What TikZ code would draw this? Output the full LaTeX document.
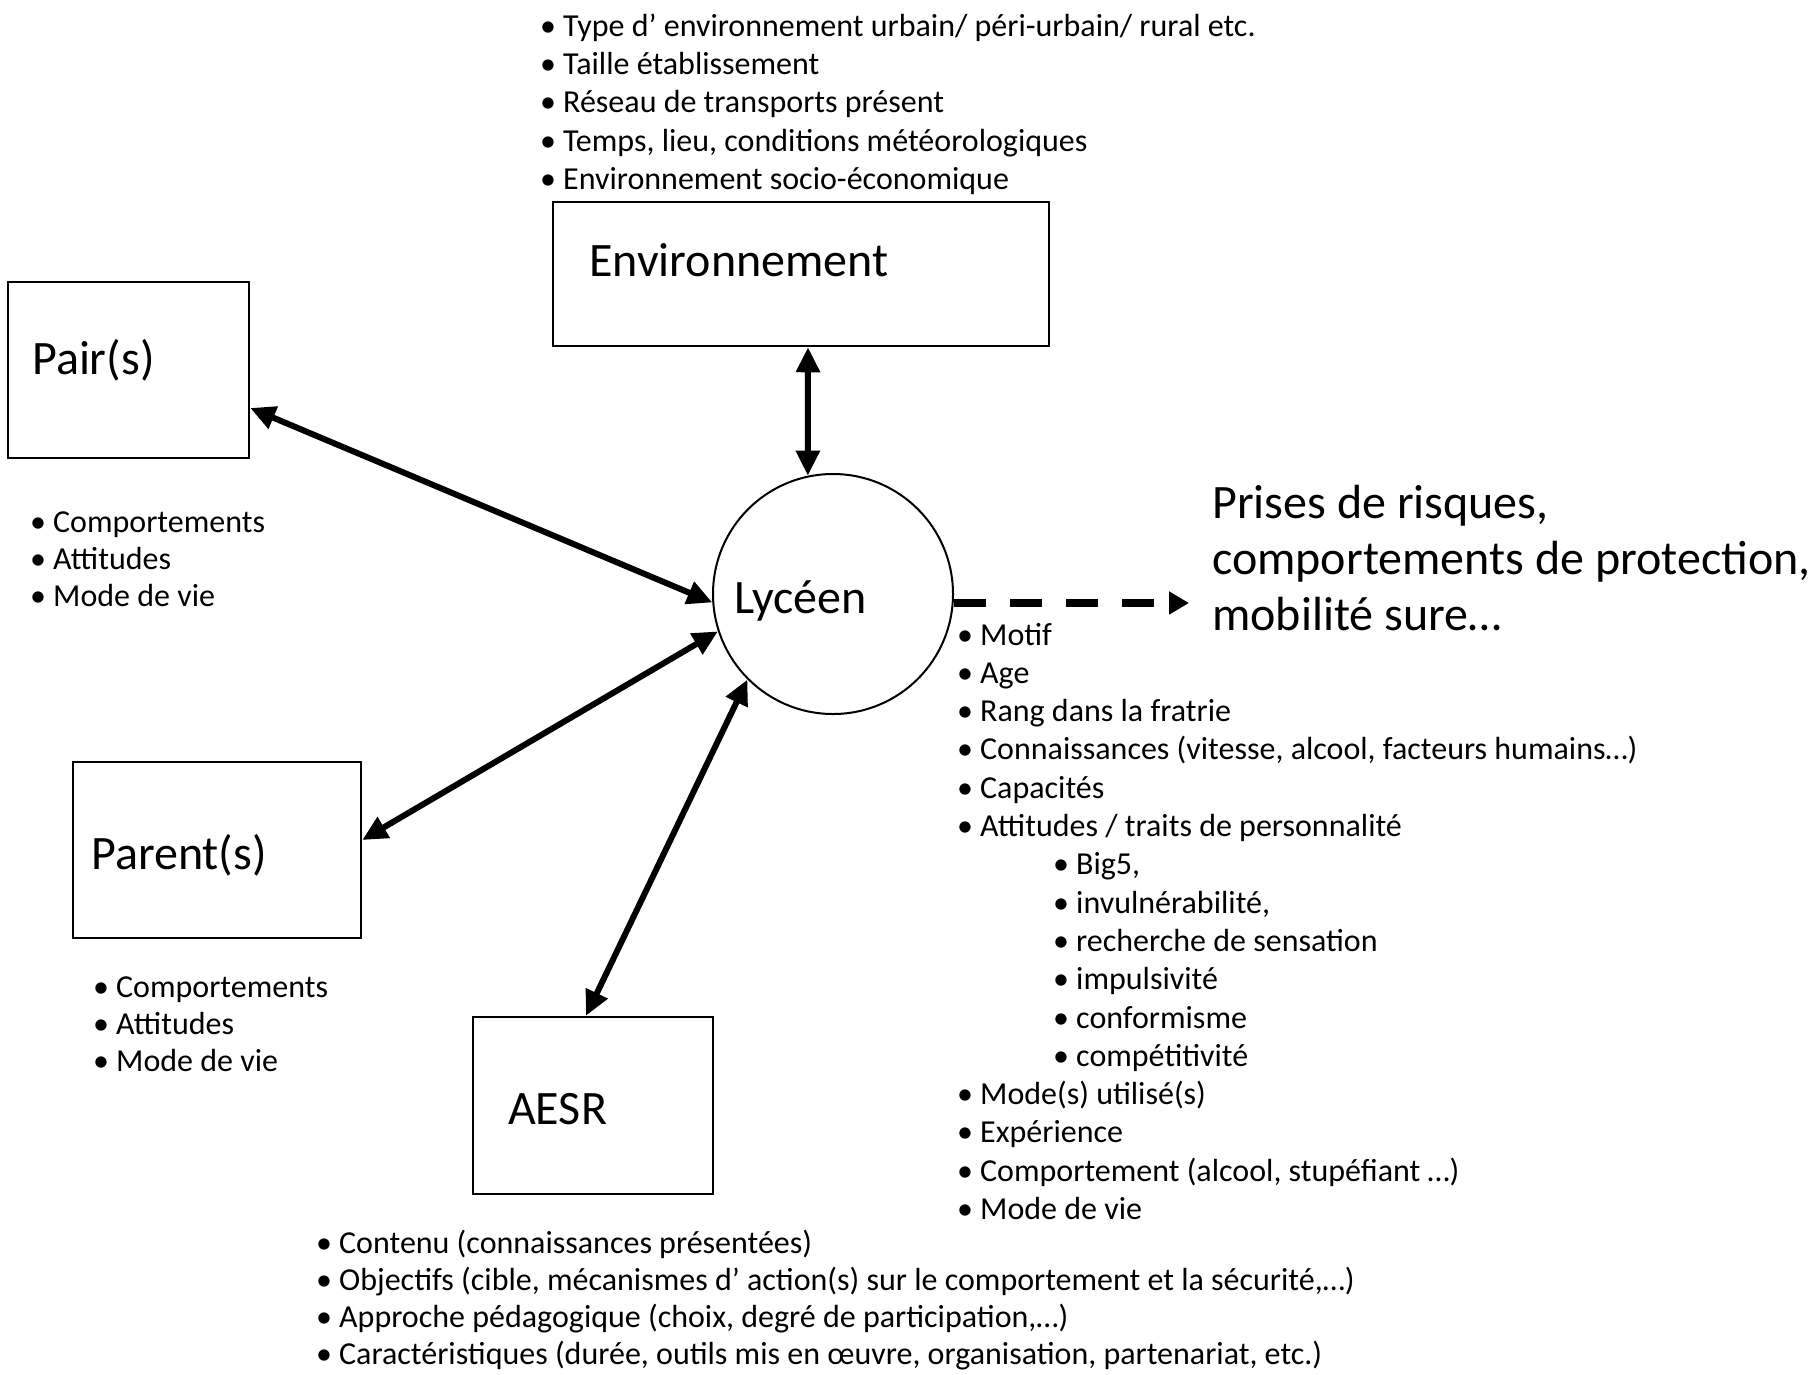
\documentclass[tikz,border=0pt]{standalone}
\usepackage{fontspec}
\setmainfont{Carlito}
\usetikzlibrary{arrows.meta}
\newcommand\bl{\llap{\makebox[23pt][l]{•}}}
\begin{document}
\begin{tikzpicture}[x=1pt,y=-1pt,
  box/.style={draw, line width=2.5pt, rectangle, inner sep=0pt},
  big/.style={font=\fontsize{48}{56}\selectfont, inner sep=0pt, anchor=base west},
  itm/.style={font=\fontsize{32}{38}\selectfont, inner sep=0pt, anchor=base west},
  dbl/.style={line width=6pt, {Triangle[length=25pt,width=23pt]}-{Triangle[length=25pt,width=23pt]}},
  dsh/.style={line width=8pt, dash pattern=on 32pt off 24pt, -{Triangle[length=20pt,width=22pt]}}]
\useasboundingbox[fill=white] (0,0) rectangle (1814,1374);

% boxes
\node[box, minimum width=496pt, minimum height=144pt] (env) at (801,274) {};
\node[box, minimum width=241pt, minimum height=176pt] (pair) at (128.5,370) {};
\node[box, minimum width=288pt, minimum height=176pt] (parent) at (217,850) {};
\node[box, minimum width=240pt, minimum height=177pt] (aesr) at (593,1105.5) {};
\node[draw, circle, line width=2pt, minimum size=240pt, inner sep=0pt] (lyc) at (833,594) {};

% labels
\node[big] (envt) at (589,276) {Environnement};
\node[big] (pairt) at (32,374) {Pair(s)};
\node[big] (parentt) at (91,869) {Parent(s)};
\node[big] (aesrt) at (508,1124) {AESR};
\node[big] (lyct) at (734,613) {Lycéen};
\node[big] (out1) at (1212,518) {Prises de risques,};
\node[big] (out2) at (1212,574) {comportements de protection,};
\node[big] (out3) at (1212,630) {mobilité sure…};

% connectors
\draw[dbl] ([xshift=7pt]env.south) -- (lyc.102);
\draw[dbl] ([yshift=-38pt]pair.east) -- (lyc.184);
\draw[dbl] ([yshift=10pt]parent.east) -- (lyc.198);
\draw[dbl] ([xshift=-7pt]aesr.north) -- (lyc.225);
\coordinate (tip) at (1189,603);
\draw[dsh] (lyc.east |- tip) -- (tip);

% lists
\foreach \t [count=\i] in {{Type d’ environnement urbain/ péri-urbain/ rural etc.},
  {Taille établissement}, {Réseau de transports présent},
  {Temps, lieu, conditions météorologiques}, {Environnement socio-économique}}
  \node[itm] (top\i) at (563,{36.5+38.2*(\i-1)}) {\bl\t};

\foreach \t [count=\i] in {Comportements, Attitudes, Mode de vie}
  \node[itm] (pl\i) at (53,{532+37*(\i-1)}) {\bl\t};

\foreach \t [count=\i] in {Comportements, Attitudes, Mode de vie}
  \node[itm] (pa\i) at (116,{997+37*(\i-1)}) {\bl\t};

\foreach \x/\t [count=\i] in {980/Motif, 980/Age, 980/Rang dans la fratrie,
  980/{Connaissances (vitesse, alcool, facteurs humains…)}, 980/Capacités,
  980/{Attitudes / traits de personnalité}, 1076/{Big5,}, 1076/{invulnérabilité,},
  1076/recherche de sensation, 1076/impulsivité, 1076/conformisme,
  1076/compétitivité, 980/Mode(s) utilisé(s), 980/Expérience,
  980/{Comportement (alcool, stupéfiant …)}, 980/Mode de vie}
  \node[itm] (ly\i) at (\x,{645+38.3*(\i-1)}) {\bl\t};

\foreach \t [count=\i] in {{Contenu (connaissances présentées)},
  {Objectifs (cible, mécanismes d’ action(s) sur le comportement et la sécurité,…)},
  {Approche pédagogique (choix, degré de participation,…)},
  {Caractéristiques (durée, outils mis en œuvre, organisation, partenariat, etc.)}}
  \node[itm] (ae\i) at (339,{1253+37*(\i-1)}) {\bl\t};
\end{tikzpicture}
\end{document}
